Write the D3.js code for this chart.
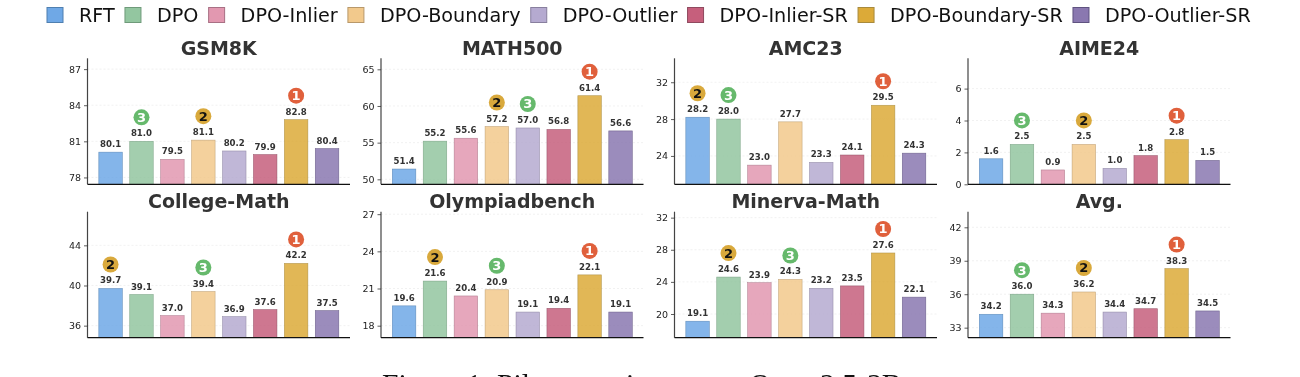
<!DOCTYPE html>
<html><head><meta charset="utf-8">
<script src="https://cdn.jsdelivr.net/npm/d3@7"></script>
<style>html,body{margin:0;padding:0;background:#fff;overflow:hidden}svg{display:block;filter:blur(.35px)}text{font-family:"DejaVu Sans",sans-serif}</style>
</head><body><svg id="c" width="1300" height="377"></svg>
<script>
const methods = ["RFT","DPO","DPO-Inlier","DPO-Boundary","DPO-Outlier","DPO-Inlier-SR","DPO-Boundary-SR","DPO-Outlier-SR"];
const colors = ["#6fa8e6","#93c6a0","#e298b0","#f2c98c","#b5aad0","#c65f7c","#dcaa38","#8a78b0"];
const edges = ["#4f7fb0","#6f9a7a","#a87084","#b8986a","#887f9e","#8f4a5f","#a88a3c","#5f5380"];
const panelNames = ["GSM8K","MATH500","AMC23","AIME24","College-Math","Olympiadbench","Minerva-Math","Avg."];
const gsm8k = [80.1,81.0,79.5,81.1,80.2,79.9,82.8,80.4];
const math500 = [51.4,55.2,55.6,57.2,57.0,56.8,61.4,56.6];
const amc23 = [28.2,28.0,23.0,27.7,23.3,24.1,29.5,24.3];
const aime24 = [1.6,2.5,0.9,2.5,1.0,1.8,2.8,1.5];
const collegeMath = [39.7,39.1,37.0,39.4,36.9,37.6,42.2,37.5];
const olympiad = [19.6,21.6,20.4,20.9,19.1,19.4,22.1,19.1];
const minerva = [19.1,24.6,23.9,24.3,23.2,23.5,27.6,22.1];
const avg = [34.2,36.0,34.3,36.2,34.4,34.7,38.3,34.5];
const panelValues = [gsm8k,math500,amc23,aime24,collegeMath,olympiad,minerva,avg];
const yDomains = [[77.43,87.9],[49.32,66.5],[20.92,34.6],[0,7.9],[34.8,47.35],[17.03,27.2],[17.05,32.74],[32.1,43.4]];
const yTicks = [[78,81,84,87],[50,55,60,65],[24,28,32],[0,2,4,6],[36,40,44],[18,21,24,27],[20,24,28,32],[33,36,39,42]];
// index of the method holding each rank (1st, 2nd, 3rd) in each panel
const ranks = [[6,3,1],[6,3,4],[6,0,1],[6,3,1],[6,0,3],[6,1,3],[6,1,3],[6,3,1]];
const rankColors = ["#e0603c","#d9a93c","#66b96c"];
const rankText = ["#fff","#111","#fff"];
const caption = "Figure 1: Pilot experiments on Qwen2.5-3B";

const svg = d3.select("#c");
// legend
let lx = 46.5;
const lg = svg.append("g");
methods.forEach((m,i)=>{
  lg.append("rect").attr("x",lx+.5).attr("y",7.5).attr("width",16).attr("height",15)
    .attr("fill",colors[i]).attr("stroke",edges[i]).attr("stroke-width",1);
  const t = lg.append("text").attr("x",lx+32.5).attr("y",21.5).attr("font-size",19.2).attr("fill","#111").text(m);
  lx += 32.5 + t.node().getComputedTextLength() + 9.7;
});
const pw = 262.5, ph = 126, x0 = 87.5, dx = 293.5, rows = [58.3,211.7];
panelNames.forEach((name,p)=>{
  const col = p%4, row = Math.floor(p/4);
  const g = svg.append("g").attr("transform",`translate(${x0+col*dx},${rows[row]})`);
  const x = d3.scaleBand().domain(methods).range([7.6,255]).paddingInner(.24).paddingOuter(.12);
  const y = d3.scaleLinear().domain(yDomains[p]).range([ph,0]);
  const vals = panelValues[p];
  g.append("g").selectAll("line").data(yTicks[p]).join("line")
    .attr("x1",0).attr("x2",pw).attr("y1",d=>y(d)).attr("y2",d=>y(d))
    .attr("stroke","#eeeeee").attr("stroke-width",.8).attr("stroke-dasharray","2 2");
  g.selectAll("rect.bar").data(methods).join("rect").attr("class","bar")
    .attr("x",m=>x(m)).attr("width",x.bandwidth())
    .attr("y",(m,i)=>y(vals[i])).attr("height",(m,i)=>ph-y(vals[i]))
    .attr("fill",(m,i)=>colors[i]).attr("fill-opacity",.85)
    .attr("stroke",(m,i)=>edges[i]).attr("stroke-width",.6).attr("stroke-opacity",.8);
  g.selectAll("text.val").data(methods).join("text").attr("class","val")
    .attr("x",m=>x(m)+x.bandwidth()/2).attr("y",(m,i)=>y(vals[i])-5)
    .attr("text-anchor","middle").attr("font-size",8.6).attr("font-weight","bold").attr("fill","#333")
    .text((m,i)=>vals[i].toFixed(1));
  ranks[p].forEach((mi,r)=>{
    const cx = x(methods[mi])+x.bandwidth()/2, cy = y(vals[mi])-24;
    g.append("circle").attr("cx",cx).attr("cy",cy).attr("r",8).attr("fill",rankColors[r]);
    g.append("text").attr("x",cx).attr("y",cy+4.5).attr("text-anchor","middle")
      .attr("font-size",13).attr("font-weight","bold").attr("fill",rankText[r]).text(r+1);
  });
  const ax = g.append("g").call(d3.axisLeft(y).tickValues(yTicks[p]).tickSize(3.5).tickPadding(3).tickFormat(d3.format("d")));
  ax.select(".domain").attr("stroke","#444").attr("stroke-width",1.2).attr("d",`M0,0V${ph}`);
  ax.selectAll(".tick line").attr("stroke","#333").attr("stroke-width",.8);
  ax.selectAll("text").attr("font-size",9.5).attr("fill","#222").style("font-family",'"DejaVu Sans",sans-serif');
  g.append("line").attr("x1",0).attr("x2",pw).attr("y1",ph).attr("y2",ph).attr("stroke","#111").attr("stroke-width",1.3);
  g.append("text").attr("x",pw/2).attr("y",-3.5).attr("text-anchor","middle")
    .attr("font-size",19).attr("font-weight","bold").attr("fill","#333").text(name);
});
svg.append("text").attr("x",382).attr("y",393.5).attr("font-size",29.6)
  .style("font-family",'"Liberation Serif",serif').attr("fill","#111").text(caption);
</script></body></html>
